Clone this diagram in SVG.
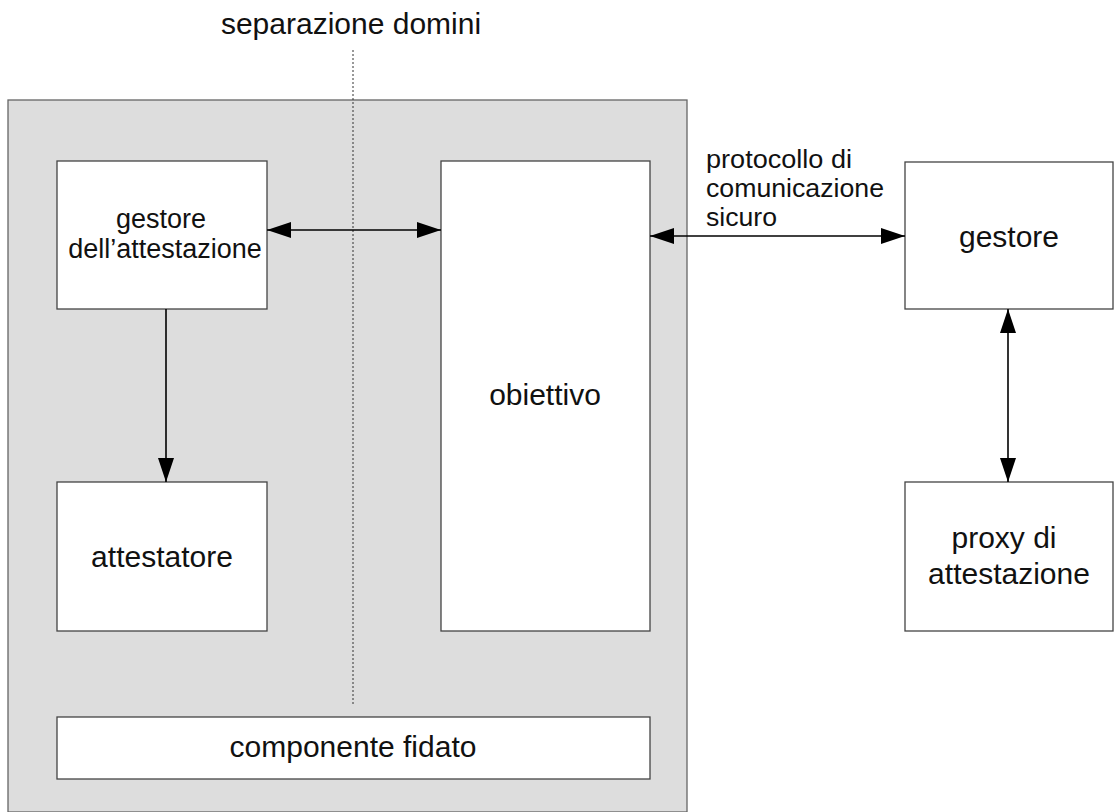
<svg xmlns="http://www.w3.org/2000/svg" width="1114" height="812" viewBox="0 0 1114 812">
<defs>
<style>
.box{fill:#ffffff;stroke:#444444;stroke-width:1.3}
.outer{fill:#dddddd;stroke:#666666;stroke-width:1.3}
.t{font-family:"Liberation Sans",Arial,sans-serif;fill:#111111;text-anchor:middle}
.lbl{font-family:"Liberation Sans",Arial,sans-serif;fill:#111111;text-anchor:start;font-size:25px}
.conn{stroke:#000000;stroke-width:1.6;fill:none}
</style>
<marker id="ah" viewBox="0 0 24 16" refX="24" refY="8" markerWidth="24" markerHeight="16" markerUnits="userSpaceOnUse" orient="auto-start-reverse">
<path d="M0,0 L24,8 L0,16 Z" fill="#000000"/>
</marker>
</defs>
<rect width="1114" height="812" fill="#ffffff"/>
<g id="sistema">
<rect class="outer" x="8" y="100" width="679" height="712"/>
</g>
<g id="separazione">
<text class="t" x="351" y="34" font-size="30">separazione domini</text>
<line x1="353" y1="50" x2="353" y2="705" stroke="#333333" stroke-width="1" stroke-dasharray="2,2"/>
</g>
<g id="gestore-attestazione">
<rect class="box" x="57" y="161" width="210" height="148"/>
<text class="t" x="161" y="228" font-size="27">gestore</text>
<text class="t" x="165" y="258" font-size="27">dell’attestazione</text>
</g>
<g id="attestatore">
<rect class="box" x="57" y="482" width="210" height="149"/>
<text class="t" x="162" y="567" font-size="30">attestatore</text>
</g>
<g id="obiettivo">
<rect class="box" x="441" y="161" width="209" height="470"/>
<text class="t" x="545" y="405" font-size="30">obiettivo</text>
</g>
<g id="componente-fidato">
<rect class="box" x="57" y="717" width="593" height="62"/>
<text class="t" x="353" y="757" font-size="30">componente fidato</text>
</g>
<g id="gestore">
<rect class="box" x="905" y="162" width="208" height="147"/>
<text class="t" x="1009" y="247" font-size="30">gestore</text>
</g>
<g id="proxy">
<rect class="box" x="905" y="482" width="208" height="149"/>
<text class="t" x="1004" y="548" font-size="30">proxy di</text>
<text class="t" x="1009" y="584" font-size="30">attestazione</text>
</g>
<g id="connectors">
<line class="conn" x1="267" y1="230" x2="441" y2="230" marker-start="url(#ah)" marker-end="url(#ah)"/>
<line class="conn" x1="650" y1="236" x2="905" y2="236" marker-start="url(#ah)" marker-end="url(#ah)"/>
<line class="conn" x1="166" y1="309" x2="166" y2="482" marker-end="url(#ah)"/>
<line class="conn" x1="1008" y1="309" x2="1008" y2="482" marker-start="url(#ah)" marker-end="url(#ah)"/>
<text class="lbl" x="706" y="168" textLength="146" lengthAdjust="spacingAndGlyphs">protocollo di</text>
<text class="lbl" x="706" y="197" textLength="178" lengthAdjust="spacingAndGlyphs">comunicazione</text>
<text class="lbl" x="706" y="226" textLength="71" lengthAdjust="spacingAndGlyphs">sicuro</text>
</g>
</svg>
